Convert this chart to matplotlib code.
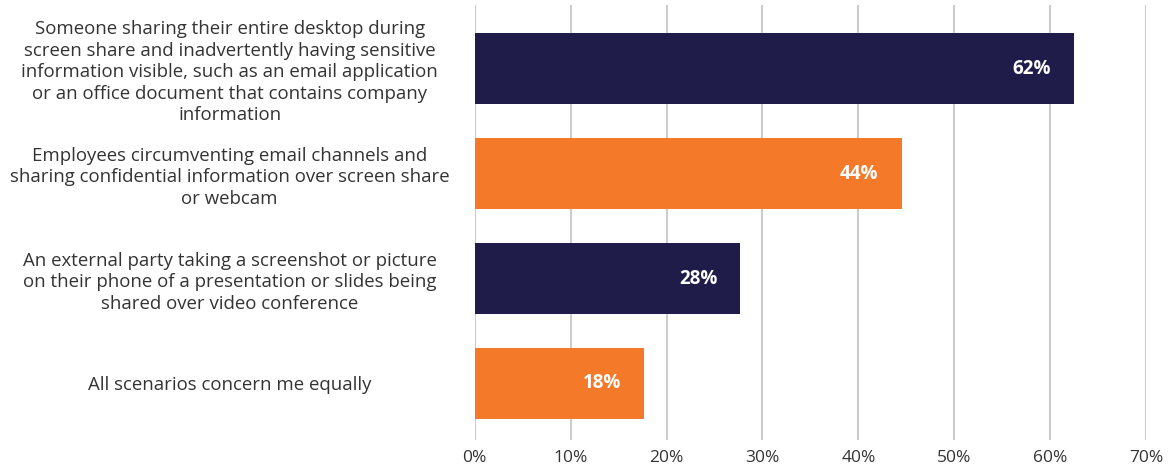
import matplotlib.pyplot as plt

plt.rcParams['font.family'] = ['Open Sans', 'DejaVu Sans']

# data
labels = [
    "Someone sharing their entire desktop during\nscreen share and inadvertently having sensitive\ninformation visible, such as an email application\nor an office document that contains company\ninformation",
    "Employees circumventing email channels and\nsharing confidential information over screen share\nor webcam",
    "An external party taking a screenshot or picture\non their phone of a presentation or slides being\nshared over video conference",
    "All scenarios concern me equally",
]
values = [62.5, 44.5, 27.7, 17.7]
value_labels = ["62%", "44%", "28%", "18%"]
colors = ["#1f1c4a", "#f47a2a", "#1f1c4a", "#f47a2a"]
ticks = [0, 10, 20, 30, 40, 50, 60, 70]

fig = plt.figure(figsize=(11.72, 4.69), dpi=100)
ax = fig.add_axes([0.405, 0.062, 0.573, 0.927])

y = list(range(len(labels)))
ax.barh(y, values, height=0.676, color=colors, zorder=3)

for yi, v, t in zip(y, values, value_labels):
    ax.text(v - 2.4, yi, t, ha='right', va='center', color='white',
            fontsize=13.5, fontweight='bold', zorder=4)

ax.set_xlim(0, 70)
ax.set_ylim(3.538, -0.605)
ax.set_xticks(ticks)
ax.set_xticklabels([f"{t}%" for t in ticks], fontsize=12.5, color='#333333')
ax.set_yticks(y)
ax.set_yticklabels(labels, fontsize=13.4, color='#333333', ha='center',
                   linespacing=1.25)
# pad is in points (245 px at 100 dpi)
ax.tick_params(axis='y', length=0, pad=176.4)
ax.tick_params(axis='x', length=0, pad=7)

ax.grid(axis='x', color='#cccccc', linewidth=1.5, zorder=0)
for s in ax.spines.values():
    s.set_visible(False)

fig.savefig('out.png', dpi=100)
